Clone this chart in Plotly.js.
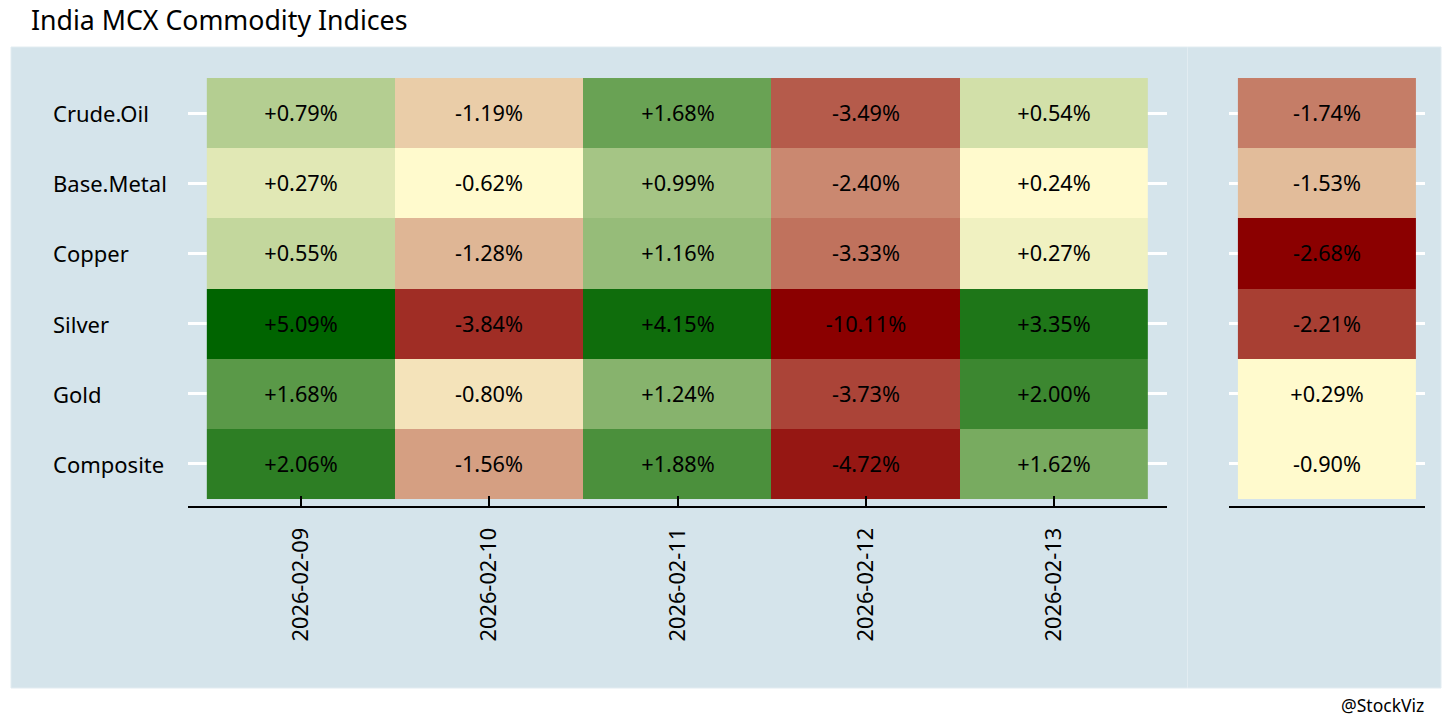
<!DOCTYPE html>
<html>
<head>
<meta charset="utf-8">
<script src="https://cdn.plot.ly/plotly-3.0.1.min.js"></script>
<style>html,body{margin:0;padding:0;background:#fff;}#chart{width:1456px;height:728px;}</style>
</head>
<body>
<div id="chart"></div>
<script>
// ---- data ----
var dates = ['2026-02-09', '2026-02-10', '2026-02-11', '2026-02-12', '2026-02-13'];
var indices = ['Crude.Oil', 'Base.Metal', 'Copper', 'Silver', 'Gold', 'Composite'];
var crudeOil  = [0.79, -1.19, 1.678, -3.49, 0.54];
var baseMetal = [0.272, -0.62, 0.99, -2.40, 0.24];
var copper    = [0.55, -1.28, 1.16, -3.33, 0.268];
var silver    = [5.09, -3.84, 4.15, -10.11, 3.35];
var gold      = [1.684, -0.80, 1.24, -3.73, 2.00];
var composite = [2.06, -1.56, 1.88, -4.72, 1.62];
var periodChange = [-1.74, -1.53, -2.68, -2.21, 0.29, -0.90];

var daily = [crudeOil, baseMetal, copper, silver, gold, composite];

// rank-based colour position: negatives -> [-1,0], positives -> [0,1]
function rankColour(matrix) {
  var flat = [];
  matrix.forEach(function (row, i) { row.forEach(function (v, j) { flat.push({v: v, i: i, j: j}); }); });
  var neg = flat.filter(function (d) { return d.v < 0; }).sort(function (a, b) { return a.v - b.v; });
  var pos = flat.filter(function (d) { return d.v >= 0; }).sort(function (a, b) { return a.v - b.v; });
  var out = matrix.map(function (row) { return row.map(function () { return 0; }); });
  neg.forEach(function (d, k) { out[d.i][d.j] = neg.length > 1 ? -1 + k / (neg.length - 1) : 0; });
  pos.forEach(function (d, k) { out[d.i][d.j] = pos.length > 1 ? k / (pos.length - 1) : 0; });
  return out;
}
function fmt(v) { return (v >= 0 ? '+' : '') + v.toFixed(2) + '%'; }

var periodMatrix = periodChange.map(function (v) { return [v]; });

var colours = [[0, '#8B0000'], [0.5, '#FFFACD'], [1, '#006400']];
var FONT = 'Noto Sans, Open Sans, sans-serif';

var traces = [
  {
    type: 'heatmap', x: dates, y: indices,
    z: rankColour(daily),
    text: daily.map(function (r) { return r.map(fmt); }),
    texttemplate: '%{text}',
    textfont: {family: FONT, size: 21.7, color: '#000'},
    colorscale: colours, zmin: -1, zmax: 1, showscale: false,
    hoverinfo: 'skip', xaxis: 'x', yaxis: 'y'
  },
  {
    type: 'heatmap', x: [' '], y: indices,
    z: rankColour(periodMatrix),
    text: periodMatrix.map(function (r) { return r.map(fmt); }),
    texttemplate: '%{text}',
    textfont: {family: FONT, size: 21.7, color: '#000'},
    colorscale: colours, zmin: -1, zmax: 1, showscale: false,
    hoverinfo: 'skip', xaxis: 'x2', yaxis: 'y2'
  }
];

// pixel helpers for layout (plot area: x 188..1425, y 71..506)
var L = 188, R = 1425, T = 71, B = 506;
function px(x) { return (x - L) / (R - L); }
function py(y) { return (B - y) / (B - T); }

var BG = '#d5e4eb';
var annotations = indices.map(function (name, i) {
  return {text: name, xref: 'paper', x: px(51), xanchor: 'left', yref: 'y', y: i, yanchor: 'middle',
          showarrow: false, font: {family: FONT, size: 22, color: '#000'}};
});
annotations.push({text: '@StockViz', xref: 'paper', x: px(1426), xanchor: 'right', yref: 'paper', y: py(705), yanchor: 'middle',
                  showarrow: false, font: {family: FONT, size: 17.5, color: '#000'}});

var layout = {
  width: 1456, height: 728,
  margin: {l: L, r: 1456 - R, t: T, b: 728 - B, pad: 0},
  paper_bgcolor: '#ffffff', plot_bgcolor: 'rgba(0,0,0,0)',
  showlegend: false,
  title: {text: 'India MCX Commodity Indices', xref: 'container', x: 31 / 1456, xanchor: 'left',
          yref: 'container', y: 1 - 21 / 728, yanchor: 'middle', font: {family: FONT, size: 26.7, color: '#000'}},
  xaxis: {domain: [0, px(1167)], type: 'category', range: [-0.6, 4.6], showgrid: false, zeroline: false,
          showline: true, linecolor: '#000', linewidth: 2, ticks: 'inside', ticklen: 10, tickwidth: 2, tickcolor: '#000',
          tickangle: -90, ticklabelstandoff: 11, tickfont: {family: FONT, size: 21.8, color: '#000'}, fixedrange: true},
  yaxis: {type: 'category', range: [5.6, -0.6], showgrid: true, gridcolor: '#ffffff', gridwidth: 3, zeroline: false,
          showline: false, ticks: '', showticklabels: false, fixedrange: true},
  xaxis2: {domain: [px(1229), 1], type: 'category', range: [-0.55, 0.55], showgrid: false, zeroline: false,
           showline: true, linecolor: '#000', linewidth: 2, ticks: '', showticklabels: false, anchor: 'y2', fixedrange: true},
  yaxis2: {type: 'category', range: [5.6, -0.6], anchor: 'x2', showgrid: true, gridcolor: '#ffffff', gridwidth: 3,
           zeroline: false, showline: false, ticks: '', showticklabels: false, fixedrange: true},
  shapes: [
    {type: 'rect', xref: 'paper', yref: 'paper', x0: px(11), x1: px(1187.5), y0: py(688), y1: py(47),
     fillcolor: BG, line: {color: '#e2ecf1', width: 1}, layer: 'below'},
    {type: 'rect', xref: 'paper', yref: 'paper', x0: px(1187.5), x1: px(1441), y0: py(688), y1: py(47),
     fillcolor: BG, line: {color: '#e2ecf1', width: 1}, layer: 'below'}
  ],
  annotations: annotations
};

Plotly.newPlot('chart', traces, layout, {displayModeBar: false, staticPlot: true});
</script>
</body>
</html>
